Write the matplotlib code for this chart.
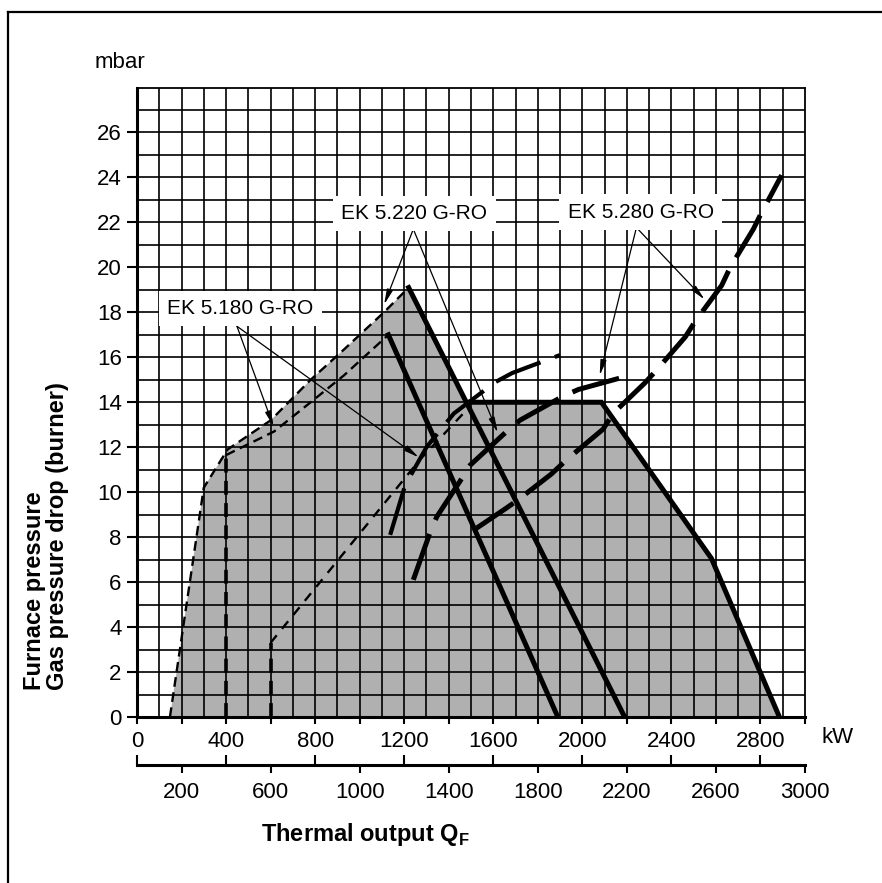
import numpy as np
import matplotlib
matplotlib.use("Agg")
import matplotlib.pyplot as plt
from matplotlib.lines import Line2D

# values (kW / mbar)
field_kw = [148, 215, 300, 407, 601, 780, 930, 1109, 1220, 1479, 2086, 2580, 2885]
field_mbar = [0, 4.5, 10.2, 11.9, 13.2, 15.0, 16.35, 18.0, 19.1, 14.0, 14.0, 7.05, 0]

max180_kw = [1129, 1890]
max180_mbar = [17.0, 0]
max220_kw = [1220, 2190]
max220_mbar = [19.1, 0]
max280_kw = [1479, 2086, 2580, 2885]
max280_mbar = [14.0, 14.0, 7.05, 0]

min180_kw = [400, 616, 780, 930, 1129]
min180_mbar = [11.65, 12.7, 14.0, 15.2, 17.0]
vert400_kw = [400, 400]
vert400_mbar = [0, 11.65]
vert600_kw = [600, 600]
vert600_mbar = [0, 3.3]
diag_kw = [600, 1271, 1470]
diag_mbar = [3.3, 11.45, 13.55]

curveA_kw = [1241, 1316, 1346, 1458, 1496, 1660, 1720, 1914, 1983, 2200]
curveA_mbar = [6.1, 8.2, 8.9, 10.6, 11.2, 12.7, 13.2, 14.27, 14.57, 15.16]
curveB_kw = [1510, 1660, 1710, 1860, 1936, 2093, 2138, 2280, 2335, 2462,
             2507, 2626, 2664, 2768, 2798, 2895]
curveB_mbar = [8.3, 9.3, 9.65, 10.8, 11.5, 12.8, 13.5, 14.85, 15.45, 16.9,
               17.6, 19.2, 20.0, 21.7, 22.3, 24.1]
curveC_kw = [1137, 1204, 1300, 1423, 1610, 1685, 1900]
curveC_mbar = [8.1, 10.3, 12.0, 13.5, 14.9, 15.3, 16.1]

labels = ["EK 5.180 G-RO", "EK 5.220 G-RO", "EK 5.280 G-RO"]
label_kw = [464, 1245, 2263]
label_mbar = [18.17, 22.4, 22.45]
ptr_from = [(449, 17.38), (1241, 21.7), (2243, 21.77)]
ptr_tips = [[(613, 12.93), (1265, 11.55)],
            [(1110, 18.35), (1620, 12.65)],
            [(2078, 15.2), (2549, 18.57)]]

xticks_top = list(range(0, 3001, 200))
xlabels_top = [str(v) if v % 400 == 0 and v <= 2800 else "" for v in xticks_top]
xticks_bottom = list(range(200, 3001, 400))
yticks = list(range(0, 27, 2))

plt.rcParams['font.family'] = ['Liberation Sans', 'DejaVu Sans']
plt.rcParams['mathtext.fontset'] = 'custom'
plt.rcParams['mathtext.rm'] = 'Liberation Sans'
plt.rcParams['mathtext.bf'] = 'Liberation Sans:bold'
plt.rcParams['lines.scale_dashes'] = False

fig = plt.figure(figsize=(8.82, 8.83), dpi=100)
ax = fig.add_axes([0.1553, 0.188, 0.7574, 0.7129])
ax.set_xlim(0, 3000)
ax.set_ylim(0, 28)

# grid every 100 kW / 1 mbar
ax.vlines(np.arange(100, 3000, 100), 0, 28, colors='black', lw=1.2, zorder=0.5)
ax.hlines(np.arange(1, 28), 0, 3000, colors='black', lw=1.2, zorder=0.5)

ax.fill(field_kw + [field_kw[0]], field_mbar + [0], color='#b0b0b0', lw=0, zorder=0.2)

fine = (0, (7, 4))
thick = (0, (35, 11))
ax.plot(field_kw[:9], field_mbar[:9], color='k', lw=1.7, ls=fine, zorder=2)
ax.plot(min180_kw, min180_mbar, color='k', lw=1.7, ls=fine, zorder=2)
ax.plot(vert400_kw, vert400_mbar, color='k', lw=2.6, ls=(0, (10, 6)), zorder=2)
ax.plot(vert600_kw, vert600_mbar, color='k', lw=2.6, ls=(0, (10, 6)), zorder=2)
ax.plot(diag_kw, diag_mbar, color='k', lw=1.7, ls=(0, (7, 6)), zorder=2)

ax.plot(curveA_kw, curveA_mbar, color='k', lw=3.6, ls=thick, zorder=2)
ax.plot(curveB_kw, curveB_mbar, color='k', lw=3.6, ls=thick, zorder=2)
ax.plot(curveC_kw, curveC_mbar, color='k', lw=3.0, ls=thick, zorder=2)

ax.plot(max180_kw, max180_mbar, color='k', lw=3.6, zorder=2.5)
ax.plot(max220_kw, max220_mbar, color='k', lw=3.6, zorder=2.5)
ax.plot(max280_kw, max280_mbar, color='k', lw=3.6, zorder=2.5, solid_joinstyle='miter')

for txt, lx, ly in zip(labels, label_kw, label_mbar):
    ax.text(lx, ly, txt, fontsize=15, ha='center', va='center', zorder=4,
            bbox=dict(boxstyle='square,pad=0.4', fc='white', ec='none'))

for start, tips in zip(ptr_from, ptr_tips):
    for tip in tips:
        ax.annotate('', xy=tip, xytext=start, zorder=3,
                    arrowprops=dict(arrowstyle='-|>,head_length=0.9,head_width=0.18',
                                    color='k', lw=0.9, shrinkA=0, shrinkB=0))

ax.set_xticks(xticks_top)
ax.set_xticklabels(xlabels_top)
ax.set_yticks(yticks)
ax.tick_params(axis='x', direction='out', length=5, width=1.5, labelsize=16, pad=5)
ax.tick_params(axis='y', direction='out', length=7, width=1.5, labelsize=16, pad=4)
for side in ['left', 'bottom']:
    ax.spines[side].set_linewidth(2.2)
for side in ['top', 'right']:
    ax.spines[side].set_linewidth(1.3)

sec = ax.secondary_xaxis(-0.0762)
sec.set_xticks(xticks_bottom)
sec.set_xticks(list(range(0, 2801, 400)), minor=True)
sec.tick_params(which='major', direction='out', length=6, width=1.5, labelsize=16, pad=6)
sec.tick_params(which='minor', direction='in', length=7, width=1.5)
sec.spines['bottom'].set_linewidth(2.2)

ax.text(1.049, -0.032, 'kW', transform=ax.transAxes, fontsize=16, ha='center', va='center')
ax.text(-0.025, 1.039, 'mbar', transform=ax.transAxes, fontsize=16, ha='center', va='center')

fig.text(35 / 882, 1 - 690 / 883, 'Furnace pressure', rotation=90, fontsize=17,
         fontweight='bold', ha='center', va='bottom')
fig.text(58 / 882, 1 - 690 / 883, 'Gas pressure drop (burner)', rotation=90, fontsize=17,
         fontweight='bold', ha='center', va='bottom')
fig.text(365 / 882, 1 - 835 / 883, r'Thermal output Q$_{\mathbf{F}}$', fontsize=17,
         fontweight='bold', ha='center', va='center')

# page frame (left and top edges only)
fig.add_artist(Line2D([8 / 882, 8 / 882], [0, 1 - 12 / 883], transform=fig.transFigure,
                      color='k', lw=1.6))
fig.add_artist(Line2D([8 / 882, 1], [1 - 12 / 883, 1 - 12 / 883], transform=fig.transFigure,
                      color='k', lw=1.6))

fig.savefig('out.png', dpi=100)
